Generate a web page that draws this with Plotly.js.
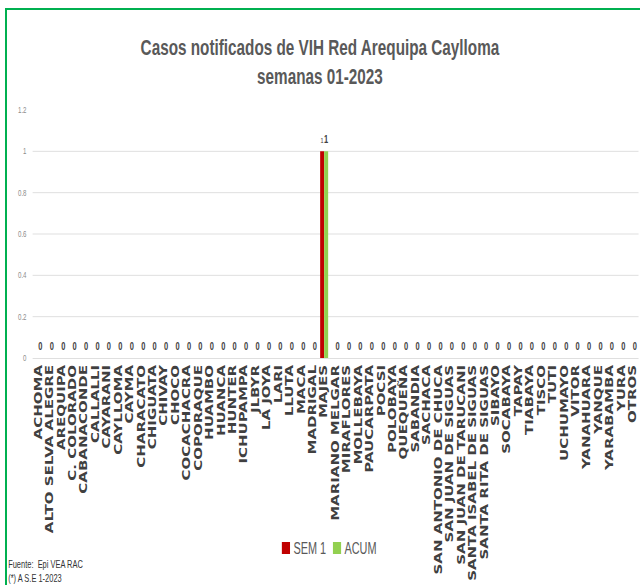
<!DOCTYPE html>
<html>
<head>
<meta charset="utf-8">
<script src="https://cdn.plot.ly/plotly-3.0.1.min.js"></script>
<style>
  html, body { margin: 0; padding: 0; overflow: hidden; background: #fff; width: 640px; height: 585px; }
  #wrap { position: absolute; left: 0; top: 0; width: 640px; height: 585px; overflow: hidden; }
  #chart { position: absolute; left: 0; top: 0; width: 941px; height: 585px; transform: scaleX(0.68); transform-origin: 0 0; }
  #frame { position: absolute; left: 5px; top: 8px; width: 640px; height: 575px; border-top: 2px solid #00b050; border-left: 2px solid #00b050; border-bottom: 1px solid #dcefec; pointer-events: none; }
</style>
</head>
<body>
<div id="wrap"><div id="chart"></div><div id="frame"></div></div>
<script>
const categories = [
  "ACHOMA","ALTO SELVA ALEGRE","AREQUIPA","C. COLORADO","CABANACONDE","CALLALLI","CAYARANI","CAYLLOMA","CAYMA","CHARACATO",
  "CHIGUATA","CHIVAY","CHOCO","COCACHACRA","COPORAQUE","HUAMBO","HUANCA","HUNTER","ICHUPAMPA","JLBYR",
  "LA JOYA","LARI","LLUTA","MACA","MADRIGAL","MAJES","MARIANO MELGAR","MIRAFLORES","MOLLEBAYA","PAUCARPATA",
  "POCSI","POLOBAYA","QUEQUEÑA","SABANDIA","SACHACA","SAN ANTONIO DE CHUCA","SAN JUAN DE SIGUAS","SAN JUAN DE TARUCANI","SANTA ISABEL DE SIGUAS","SANTA RITA DE SIGUAS",
  "SIBAYO","SOCABAYA","TAPAY","TIABAYA","TISCO","TUTI","UCHUMAYO","VITOR","YANAHUARA","YANQUE",
  "YARABAMBA","YURA","OTROS"
];
const sem1 = [
  0,0,0,0,0, 0,0,0,0,0,
  0,0,0,0,0, 0,0,0,0,0,
  0,0,0,0,0, 1,0,0,0,0,
  0,0,0,0,0, 0,0,0,0,0,
  0,0,0,0,0, 0,0,0,0,0,
  0,0,0
];
const acum = [
  0,0,0,0,0, 0,0,0,0,0,
  0,0,0,0,0, 0,0,0,0,0,
  0,0,0,0,0, 1,0,0,0,0,
  0,0,0,0,0, 0,0,0,0,0,
  0,0,0,0,0, 0,0,0,0,0,
  0,0,0
];
const seriesNames = ["SEM 1", "ACUM"];
const titleText = "Casos notificados de VIH Red Arequipa Caylloma<br>semanas 01-2023";
const footText = "Fuente:  Epi VEA RAC<br>(*) A S.E 1-2023";

const traces = [
  {
    type: "bar", name: seriesNames[0], x: categories, y: sem1,
    marker: { color: "#c00000", line: { width: 0 } },
    text: sem1.map(v => v ? String(v) : ""),
    textposition: "outside", constraintext: "none", cliponaxis: false,
    textfont: { family: "Liberation Sans", size: 8, color: "#404040" },
    hoverinfo: "skip"
  },
  {
    type: "bar", name: seriesNames[1], x: categories, y: acum,
    marker: { color: "#92d050", line: { width: 0 } },
    text: acum.map(v => String(v)),
    textposition: "outside", constraintext: "none", cliponaxis: false,
    textfont: { family: "Liberation Sans", size: 11, color: "#404040", weight: "bold" },
    hoverinfo: "skip"
  }
];

const layout = {
  width: 941, height: 585,
  margin: { l: 48, r: 2, t: 110, b: 227 },
  paper_bgcolor: "#ffffff", plot_bgcolor: "#ffffff",
  barmode: "group", bargap: 0.3, bargroupgap: 0,
  title: {
    text: titleText,
    font: { family: "Liberation Sans", size: 22.5, color: "#595959", weight: "bold" },
    x: 0.5, xref: "container", xanchor: "center",
    y: 1 - 55 / 585, yref: "container", yanchor: "top"
  },
  xaxis: {
    type: "category",
    tickmode: "array", tickvals: categories, ticktext: categories,
    tickangle: -90,
    tickfont: { family: "DejaVu Sans", size: 15, color: "#404040", weight: "bold" },
    ticks: "", showgrid: false, zeroline: false,
    showline: true, linecolor: "#d9d9d9", linewidth: 1,
    automargin: false
  },
  yaxis: {
    range: [0, 1.2], dtick: 0.2, tick0: 0,
    tickfont: { family: "Liberation Sans", size: 9, color: "#8c8c8c" },
    ticks: "", showgrid: true, gridcolor: "#d9d9d9", gridwidth: 1,
    zeroline: false, showline: false, ticklabelstandoff: 8,
    automargin: false
  },
  showlegend: true,
  legend: {
    orientation: "h", x: 0.5, xanchor: "center",
    y: 1 - 548 / 585, yref: "container", yanchor: "middle",
    font: { family: "Liberation Sans", size: 16, color: "#595959" },
    itemwidth: 30, bgcolor: "rgba(0,0,0,0)"
  },
  annotations: [
    {
      text: footText, showarrow: false, align: "left",
      xref: "paper", yref: "paper", x: -0.043, y: -0.86,
      xanchor: "left", yanchor: "middle",
      font: { family: "Liberation Sans", size: 11, color: "#333333" }
    }
  ]
};

Plotly.newPlot("chart", traces, layout, { staticPlot: true, displayModeBar: false }).then(function (gd) {
  // lift the data labels a little above the bars, as in the reference
  gd.querySelectorAll("text.bartext").forEach(function (t) {
    var tr = t.getAttribute("transform") || "";
    t.setAttribute("transform", "translate(0,-6) " + tr);
  });
  // tighter legend: text closer to its swatch, items closer together
  var items = gd.querySelectorAll(".legend .traces");
  items.forEach(function (g, i) {
    var txt = g.querySelector("text.legendtext");
    if (txt) txt.setAttribute("x", 31);
    if (i > 0) {
      var m = /translate\(([-\d.]+),\s*([-\d.]+)\)/.exec(g.getAttribute("transform") || "");
      if (m) g.setAttribute("transform", "translate(" + (parseFloat(m[1]) - 18 * i) + "," + m[2] + ")");
    }
  });
});
</script>
</body>
</html>
